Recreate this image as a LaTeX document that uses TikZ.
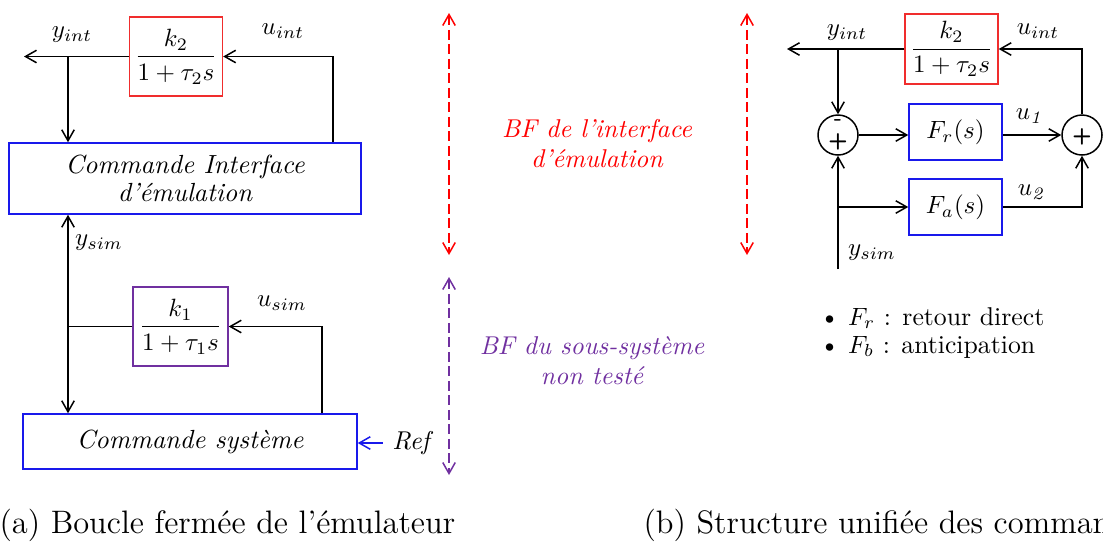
\documentclass[tikz,border=0pt]{standalone}
\usepackage{amsmath}
\usepackage{tikz}
\usetikzlibrary{arrows.meta,positioning,calc}
\definecolor{gainred}{RGB}{240,45,45}
\definecolor{cmdblue}{RGB}{25,25,235}
\definecolor{bfred}{RGB}{255,0,0}
\definecolor{bfpurple}{RGB}{112,48,160}
\tikzset{
  blk/.style     ={draw, semithick, align=center, inner sep=2pt,
                   font=\fontsize{10.3}{12}\selectfont},
  gainbox/.style ={blk, draw=gainred, minimum width=36.8pt, minimum height=31.6pt},
  simbox/.style  ={blk, draw=bfpurple, minimum width=38pt, minimum height=31.6pt},
  cmdbox/.style  ={blk, draw=cmdblue, font=\fontsize{10.5}{11.2}\selectfont\itshape},
  corrbox/.style ={blk, draw=cmdblue, minimum width=37.2pt, minimum height=22.4pt},
  sumnode/.style ={draw, semithick, circle, minimum size=16pt, inner sep=0pt},
  signnode/.style={inner sep=0pt, font=\fontsize{9}{10}\sffamily\bfseries},
  lbl/.style     ={inner sep=0pt, font=\fontsize{10.3}{12}\selectfont},
  bftext/.style  ={align=center, inner sep=0pt, font=\fontsize{10.3}{12}\selectfont\itshape},
  captxt/.style  ={anchor=base west, inner sep=0pt, font=\fontsize{13}{15}\selectfont},
  arr/.style     ={-{Straight Barb[length=4.4pt,width=5pt]}, semithick},
  darr/.style    ={{Straight Barb[length=4.4pt,width=5pt]}-{Straight Barb[length=4.4pt,width=5pt]},
                   semithick, dash pattern=on 4pt off 1.8pt},
}

\begin{document}
\begin{tikzpicture}[x=0.4pt, y=-0.4pt]
  \useasboundingbox (0,0) rectangle (1103,542);

  % (a) boucle fermee de l'emulateur
  \node[gainbox] (gI) at (176,56.5) {$\dfrac{k_2}{1+\tau_2 s}$};
  \node[cmdbox, minimum width=140.8pt, minimum height=28.4pt] (cmdI) at (185,178.5)
       {Commande Interface\\d'émulation};
  \node[simbox] (gS) at (180.5,326.5) {$\dfrac{k_1}{1+\tau_1 s}$};
  \node[cmdbox, minimum width=133.6pt, minimum height=22pt] (cmdS) at (190,441.5)
       {Commande système};
  \node[lbl, font=\fontsize{10.3}{12}\selectfont\itshape] (ref) at (411,443) {Ref};

  \node[lbl] (yintA) at (72,35) {$y_{int}$};
  \node[lbl] (uintA) at (283,31) {$u_{int}$};
  \node[lbl] (ysimA) at (99,243) {$y_{sim}$};
  \node[lbl] (usimA) at (282,303) {$u_{sim}$};

  \coordinate (outI) at (24,56.5);
  \coordinate (brI) at (68,56.5);
  \coordinate (upI) at (333,178);
  \coordinate (upS) at (322,441);
  \coordinate (jS) at (gS.west -| brI);

  \draw[arr] (gI.west) -- (outI);
  \draw[arr] (brI) -- (brI |- cmdI.north);
  \draw[arr] (cmdI.north -| upI) |- (gI.east);
  \draw (gS.west) -- (jS);
  \draw[arr] (jS) -- (jS |- cmdI.south);
  \draw[arr] (jS) -- (jS |- cmdS.north);
  \draw[arr] (cmdS.north -| upS) |- (gS.east);
  \draw[arr, cmdblue] ([xshift=-3.6pt]ref.west) -- (ref.west -| cmdS.east);

  % zones de boucle fermee
  \coordinate (bfIt) at (449,13);
  \coordinate (bfIb) at (449,255);
  \coordinate (bfSt) at (449,277);
  \coordinate (bfSb) at (449,475);
  \coordinate (bfRt) at (747,13);
  \coordinate (bfRb) at (747,255);
  \draw[darr, bfred] (bfIt) -- (bfIb);
  \draw[darr, bfpurple] (bfSt) -- (bfSb);
  \draw[darr, bfred] (bfRt) -- (bfRb);
  \node[bftext, text=bfred] (bfI) at (597,144) {BF de l'interface\\d'émulation};
  \node[bftext, text=bfpurple] (bfS) at (592,361) {BF du sous-système\\non testé};

  % (b) structure unifiee
  \node[gainbox, minimum width=34pt, minimum height=28pt] (gR) at (951.5,49)
       {$\dfrac{k_2}{1+\tau_2 s}$};
  \node[sumnode] (sA) at (838,135) {};
  \node[sumnode] (sB) at (1082,135) {};
  \node[corrbox] (Fr) at (955.5,132) {$F_r(s)$};
  \node[corrbox] (Fa) at (955.5,207) {$F_a(s)$};
  \node[signnode] (sAm) at ([yshift=4.8pt]sA.center) {-};
  \node[signnode] (sAp) at ([yshift=-2.6pt]sA.center) {+};
  \node[signnode] (sBp) at ([yshift=-0.6pt]sB.center) {+};

  \node[lbl] (yintR) at (847,33) {$y_{int}$};
  \node[lbl] (uintR) at (1038,31) {$u_{int}$};
  \node[lbl] (uR1) at (1030,116) {$u_{\mathit{1}}$};
  \node[lbl] (uR2) at (1032,192) {$u_{\mathit{2}}$};
  \node[lbl] (ysimR) at (872,253) {$y_{sim}$};

  \coordinate (outR) at (787,49);
  \coordinate (brR) at (838,49);
  \coordinate (inR) at (838,269);
  \coordinate (jR) at (Fa.west -| inR);

  \draw[arr] (gR.west) -- (outR);
  \draw[arr] (brR) -- (sA.north);
  \draw[arr] (sA.east) -- (sA.east -| Fr.west);
  \draw[arr] (sB.west -| Fr.east) -- (sB.west);
  \draw[arr] (Fa.east) -| (sB.south);
  \draw[arr] (sB.north) |- (gR.east);
  \draw[arr] (inR) -- (sA.south);
  \draw[arr] (jR) -- (Fa.west);

  \node[lbl, anchor=west] (legFr) at (819,318) {\textbullet\ $F_r$ : retour direct};
  \node[lbl, anchor=west] (legFb) at (819,347) {\textbullet\ $F_b$ : anticipation};

  % legendes
  \node[captxt] (capA) at (-1,533) {(a) Boucle fermée de l'émulateur};
  \node[captxt] (capB) at (643,533) {(b) Structure unifiée des commandes};
\end{tikzpicture}
\end{document}
